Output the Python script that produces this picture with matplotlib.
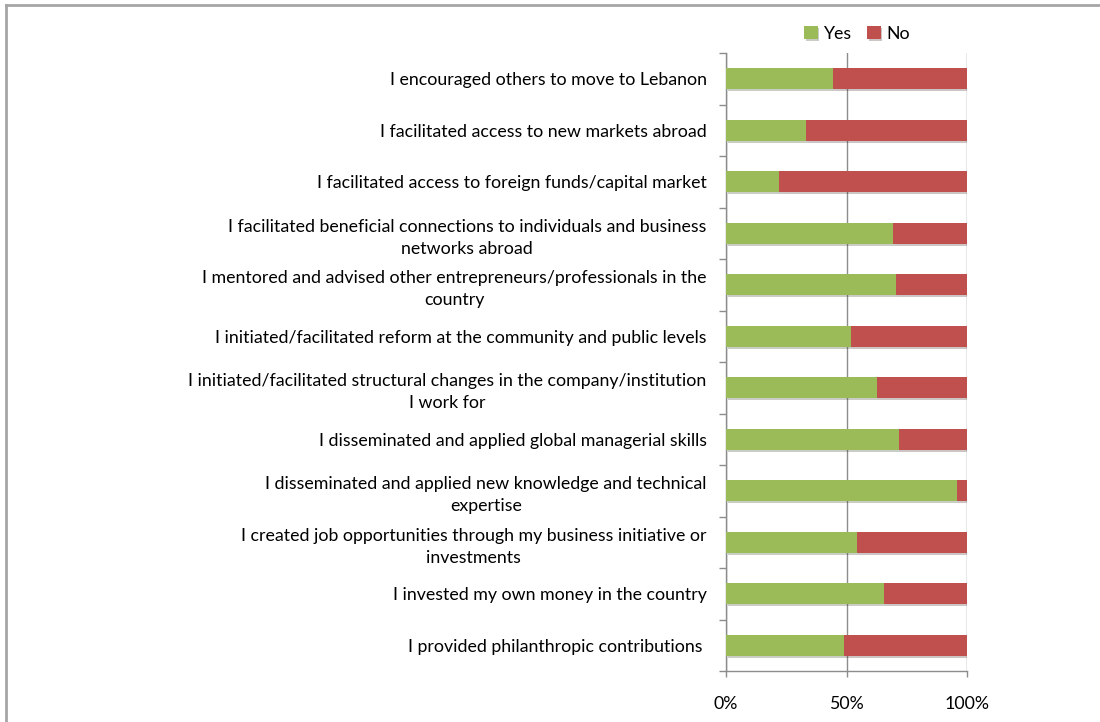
import numpy as np
import matplotlib.pyplot as plt
import matplotlib.patheffects as pe
from matplotlib.ticker import FixedLocator

plt.rcParams["font.family"] = ["Lato", "DejaVu Sans"]

statements = [
    "I encouraged others to move to Lebanon",
    "I facilitated access to new markets abroad",
    "I facilitated access to foreign funds/capital market",
    "I facilitated beneficial connections to individuals and business\nnetworks abroad",
    "I mentored and advised other entrepreneurs/professionals in the\ncountry",
    "I initiated/facilitated reform at the community and public levels",
    "I initiated/facilitated structural changes in the company/institution\nI work for",
    "I disseminated and applied global managerial skills",
    "I disseminated and applied new knowledge and technical\nexpertise",
    "I created job opportunities through my business initiative or\ninvestments",
    "I invested my own money in the country",
    "I provided philanthropic contributions ",
]
yes_pct = [44.5, 33.2, 22.0, 69.4, 70.5, 51.7, 62.5, 71.7, 95.7, 54.2, 65.6, 48.8]
no_pct = [100 - v for v in yes_pct]

GREEN = "#9BBB59"
RED = "#C0504D"
GRID = "#8c8c8c"
FS = 12.8

fig = plt.figure(figsize=(11, 7.22), dpi=100)
ax = fig.add_axes([726 / 1100, 51 / 722, 241 / 1100, 618 / 722])

y = np.arange(len(statements))
shadow = [pe.SimplePatchShadow(offset=(1.2, -1.5), alpha=0.25), pe.Normal()]
b1 = ax.barh(y, yes_pct, height=0.4, color=GREEN, label="Yes", zorder=3)
b2 = ax.barh(y, no_pct, left=yes_pct, height=0.4, color=RED, label="No", zorder=3)
for p in list(b1) + list(b2):
    p.set_path_effects(shadow)

ax.set_xlim(0, 100)
ax.set_ylim(len(statements) - 0.5, -0.5)

ax.set_xticks([0, 50, 100])
ax.set_xticklabels(["0%", "50%", "100%"], fontsize=FS)
ax.tick_params(axis="x", length=4, width=1, color=GRID, pad=14)
ax.xaxis.grid(True, color=GRID, linewidth=1, zorder=0)

ax.set_yticks(y)
ax.set_yticklabels(statements, fontsize=FS)
ax.tick_params(axis="y", which="major", length=0, pad=14)
ax.yaxis.set_minor_locator(FixedLocator(np.arange(-0.5, len(statements), 1)))
ax.tick_params(axis="y", which="minor", length=5, width=1, color=GRID)
for t in ax.get_yticklabels():
    t.set_multialignment("center")
    t.set_linespacing(1.45)

for side in ["top", "right"]:
    ax.spines[side].set_visible(False)
for side in ["left", "bottom"]:
    ax.spines[side].set_color(GRID)
    ax.spines[side].set_linewidth(1)

fig.legend(handles=[b1, b2], labels=["Yes", "No"], loc="center",
           bbox_to_anchor=(857 / 1100, 1 - 34 / 722), ncol=2, frameon=False,
           fontsize=FS, handlelength=0.75, handleheight=0.75,
           handletextpad=0.3, columnspacing=0.9)

# outer frame on the left and top edges
fig.add_artist(plt.Line2D([6 / 1100, 6 / 1100], [0, 1 - 5 / 722],
                          transform=fig.transFigure, color="#a6a6a6", linewidth=2))
fig.add_artist(plt.Line2D([6 / 1100, 1], [1 - 5 / 722, 1 - 5 / 722],
                          transform=fig.transFigure, color="#a6a6a6", linewidth=2))

fig.savefig("out.png", dpi=100)
plt.close(fig)
